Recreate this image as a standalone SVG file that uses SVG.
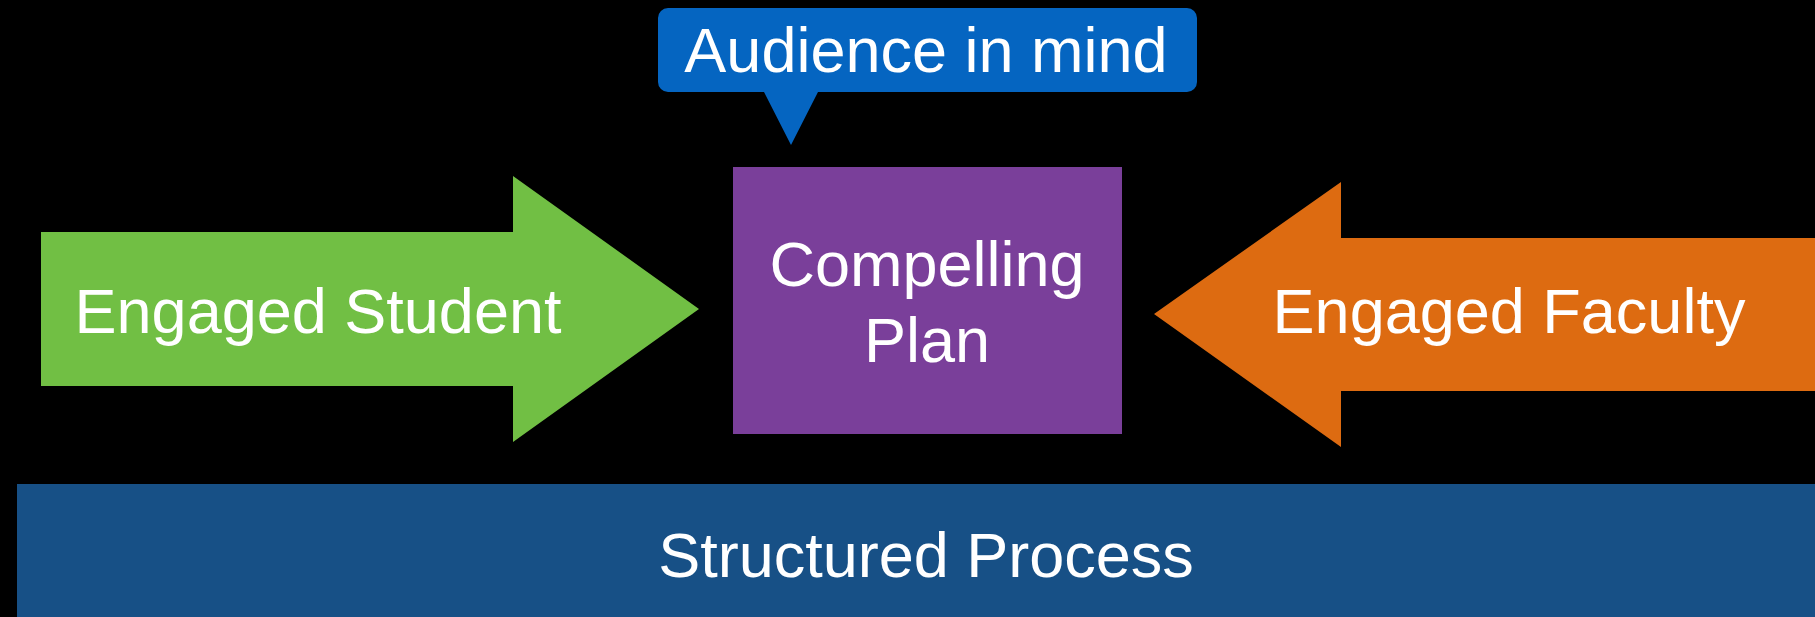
<svg xmlns="http://www.w3.org/2000/svg" width="1815" height="617" viewBox="0 0 1815 617">
<style>
.t{font-family:"Liberation Sans",Arial,sans-serif;font-size:63px;fill:#ffffff;text-anchor:middle}
</style>
<rect x="0" y="0" width="1815" height="617" fill="#000000"/>
<g id="structured-process">
<rect x="17" y="484" width="1798" height="133" fill="#175086"/>
<text class="t" x="926" y="577">Structured Process</text>
</g>
<g id="engaged-student">
<polygon points="41,232 513,232 513,176 699,309 513,442 513,386 41,386" fill="#71bf44"/>
<text class="t" x="318" y="333">Engaged Student</text>
</g>
<g id="engaged-faculty">
<polygon points="1815,238 1341,238 1341,182 1154,314 1341,447 1341,391 1815,391" fill="#dd6b11"/>
<text class="t" x="1509" y="333">Engaged Faculty</text>
</g>
<g id="compelling-plan">
<rect x="733" y="167" width="389" height="267" fill="#7a3f9a"/>
<text class="t" x="927" y="286">Compelling</text>
<text class="t" x="927" y="362">Plan</text>
</g>
<g id="audience-in-mind">
<path d="M668,8 H1187 A10,10 0 0 1 1197,18 V82 A10,10 0 0 1 1187,92 H818 L791,145 L764,92 H668 A10,10 0 0 1 658,82 V18 A10,10 0 0 1 668,8 Z" fill="#0565c1"/>
<text class="t" x="926" y="72">Audience in mind</text>
</g>
<g id="connectors"></g>
</svg>
